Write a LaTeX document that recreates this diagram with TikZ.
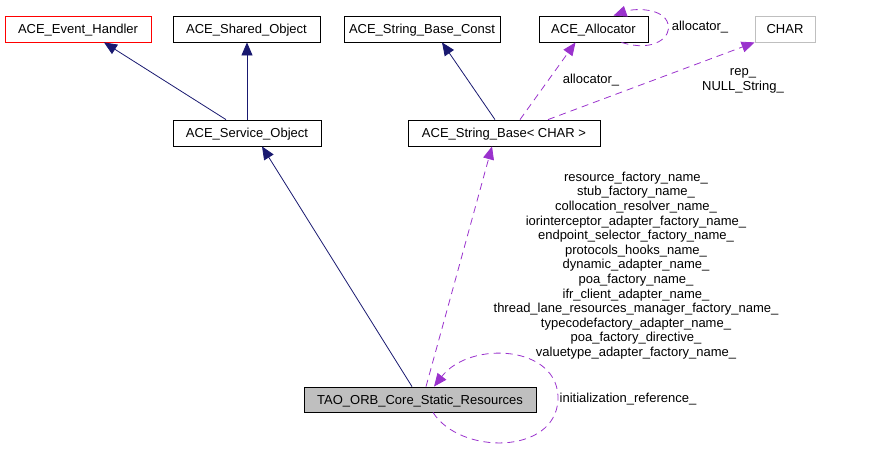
\documentclass[tikz,border=0pt]{standalone}
\usepackage{fontspec}
\setmainfont{Liberation Sans}
\usetikzlibrary{arrows.meta}
\definecolor{edgenavy}{HTML}{191970}
\definecolor{edgepurple}{HTML}{9A32CD}
\definecolor{boxgray}{HTML}{BFBFBF}
\begin{document}
\begin{tikzpicture}[x=1pt,y=-1pt,
	font=\fontsize{13}{14.6}\selectfont,
	box/.style={draw,rectangle,minimum height=26pt,inner sep=0pt,text height=9.4pt,text depth=0pt,line width=0.8pt},
	inherit/.style={draw=edgenavy,line width=0.8pt,-{Triangle[length=13pt,width=11pt,fill=edgenavy]}},
	usage/.style={draw=edgepurple,line width=0.8pt,dash pattern=on 7pt off 5pt,-{Triangle[length=13pt,width=11pt,fill=edgepurple]}}]
\useasboundingbox (0,0) rectangle (873,471);
\node [box,draw=red,minimum width=146pt] (evh) at (78,29) {ACE\_Event\_Handler};
\node [box,minimum width=147pt] (shobj) at (246.5,29) {ACE\_Shared\_Object};
\node [box,minimum width=156pt] (strconst) at (422,29) {ACE\_String\_Base\_Const};
\node [box,minimum width=109pt] (alloc) at (593.5,29) {ACE\_Allocator};
\node [box,draw=boxgray,minimum width=60pt] (chr) at (785,29) {CHAR};
\node [box,minimum width=148pt] (svcobj) at (247,133) {ACE\_Service\_Object};
\node [box,minimum width=192pt] (strbase) at (504,133) {ACE\_String\_Base< CHAR >};
\node [box,fill=boxgray,minimum width=232pt,minimum height=25pt] (core) at (420,399.5) {TAO\_ORB\_Core\_Static\_Resources};
% inheritance
\draw [inherit] ([xshift=-21pt]svcobj.north) -- ([xshift=26pt]evh.south);
\draw [inherit] (svcobj.north) -- ([xshift=0.5pt]shobj.south);
\draw [inherit] ([xshift=-9pt]strbase.north) -- ([xshift=20pt]strconst.south);
\draw [inherit] ([xshift=-8pt]core.north) -- ([xshift=15pt]svcobj.south);
% members
\draw [usage] ([xshift=6pt]core.north) -- ([xshift=-12pt]strbase.south);
\draw [usage] ([xshift=16pt]strbase.north) -- ([xshift=-18pt]alloc.south);
\draw [usage] ([xshift=44pt]strbase.north) -- (chr.south west);
\draw [usage] ([xshift=28pt]alloc.south) .. controls (655,53) and (672,36) .. (668,24) .. controls (664,8) and (635,8) .. ([xshift=20pt]alloc.north);
\draw [usage] ([xshift=13pt]core.south) .. controls (460,455) and (555,455) .. (558,400) .. controls (560,345) and (470,340) .. ([xshift=14pt]core.north);
\node (lalloc) at (591,80) {allocator\_};
\node (lallocself) at (700,27) {allocator\_};
\node [align=center] (lrep) at (743,81) {rep\_\\NULL\_String\_};
\node [align=center] (lnames) at (636,265.5) {resource\_factory\_name\_\\stub\_factory\_name\_\\collocation\_resolver\_name\_\\iorinterceptor\_adapter\_factory\_name\_\\endpoint\_selector\_factory\_name\_\\protocols\_hooks\_name\_\\dynamic\_adapter\_name\_\\poa\_factory\_name\_\\ifr\_client\_adapter\_name\_\\thread\_lane\_resources\_manager\_factory\_name\_\\typecodefactory\_adapter\_name\_\\poa\_factory\_directive\_\\valuetype\_adapter\_factory\_name\_};
\node (linit) at (628,399) {initialization\_reference\_};
\end{tikzpicture}
\end{document}
